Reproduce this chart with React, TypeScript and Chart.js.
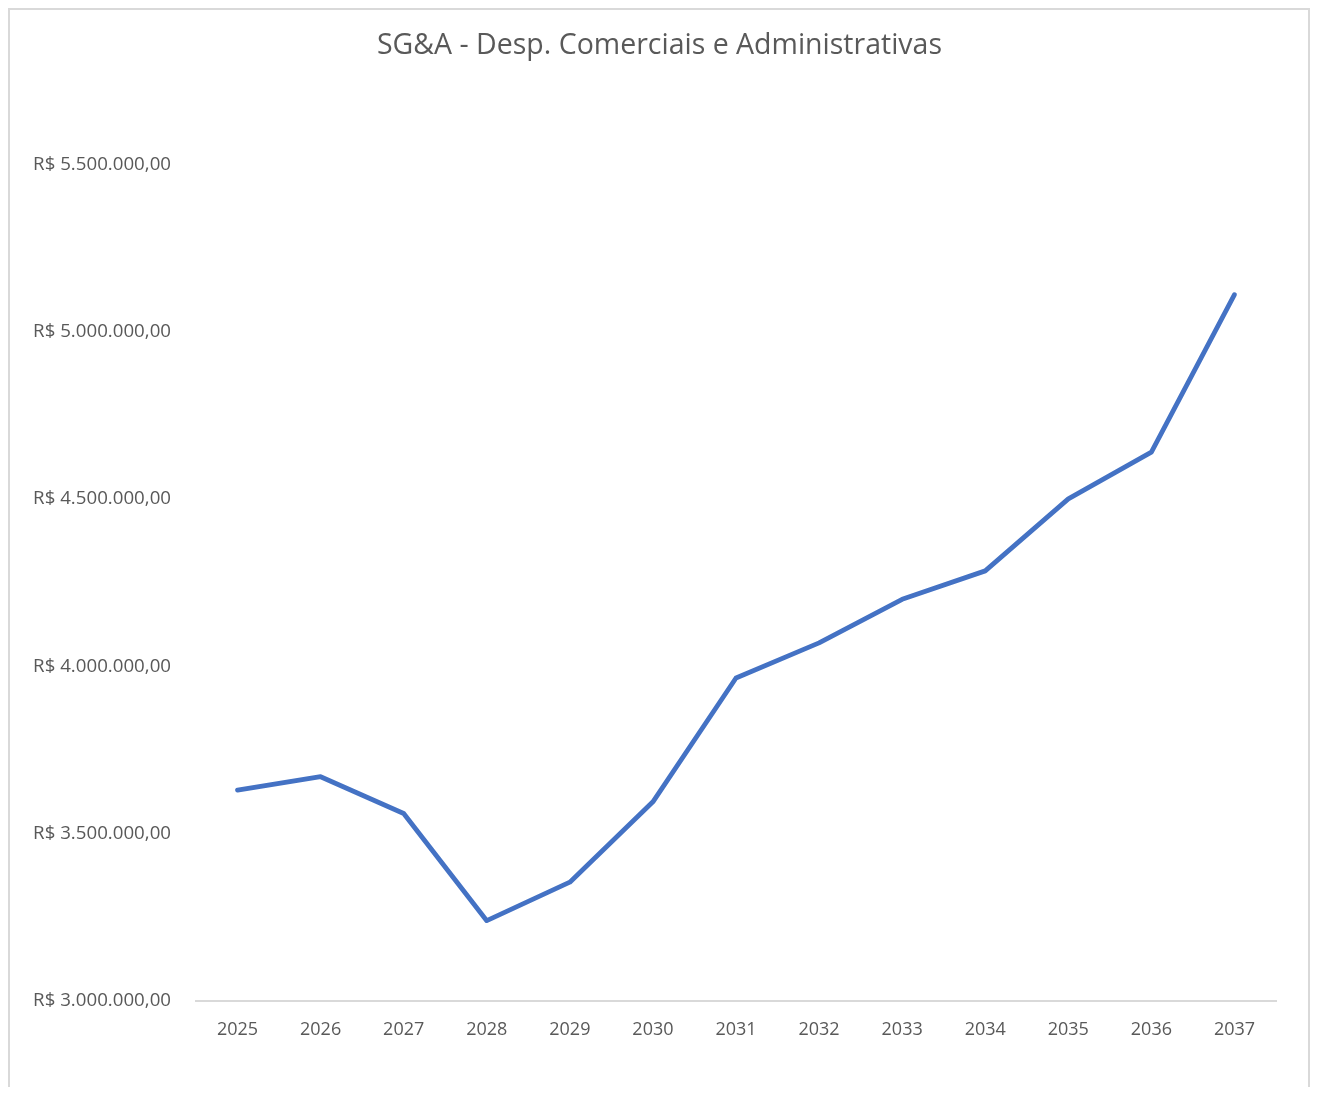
import React, { useEffect, useRef } from "react";
import { Chart, registerables } from "chart.js";

Chart.register(...registerables);

const chartTitle = "SG&A - Desp. Comerciais e Administrativas";
const years = ["2025", "2026", "2027", "2028", "2029", "2030", "2031", "2032", "2033", "2034", "2035", "2036", "2037"];
const sgaValues = [3630000, 3670000, 3560000, 3240000, 3355000, 3595000, 3965000, 4070000, 4200000, 4285000, 4500000, 4640000, 5110000];
const yMin = 3000000;
const yMax = 5500000;
const yStep = 500000;

const fmtBRL = (v: number) => {
  const s = Math.round(v).toString().replace(/\B(?=(\d{3})+(?!\d))/g, ".");
  return "R$ " + s + ",00";
};

const frameBorder = {
  id: "frameBorder",
  afterDraw(chart: any) {
    const ctx = chart.ctx;
    ctx.save();
    ctx.fillStyle = "#d9d9d9";
    ctx.fillRect(8, 8, 1302, 2);
    ctx.fillRect(8, 8, 2, chart.height);
    ctx.fillRect(1308, 8, 2, chart.height);
    ctx.restore();
  },
};

export default function App() {
  const canvasRef = useRef<HTMLCanvasElement | null>(null);

  useEffect(() => {
    if (!canvasRef.current) return;
    const font = "'Open Sans', 'Noto Sans', sans-serif";
    const chart = new Chart(canvasRef.current, {
      type: "line",
      data: {
        labels: years,
        datasets: [
          {
            label: "SG&A",
            data: sgaValues,
            borderColor: "#4472C4",
            backgroundColor: "#4472C4",
            borderWidth: 4.8,
            pointRadius: 0,
            tension: 0,
            borderCapStyle: "round",
            borderJoinStyle: "round",
          },
        ],
      },
      plugins: [frameBorder],
      options: {
        animation: false,
        responsive: false,
        maintainAspectRatio: false,
        layout: { padding: 0 },
        plugins: {
          legend: { display: false },
          tooltip: { enabled: false },
          title: {
            display: true,
            text: chartTitle,
            color: "#595959",
            font: { family: font, size: 28.5, weight: "normal" },
            padding: { top: 29, bottom: 101 },
          },
        },
        scales: {
          x: {
            offset: true,
            grid: { display: false, drawTicks: false },
            border: { display: true, color: "#d9d9d9", width: 2 },
            ticks: {
              color: "#595959",
              font: { family: font, size: 18 },
              padding: 18,
              maxRotation: 0,
            },
            afterFit: (s: any) => {
              s.height = 94;
            },
          },
          y: {
            min: yMin,
            max: yMax,
            grid: { display: false, drawTicks: false },
            border: { display: false },
            ticks: {
              stepSize: yStep,
              color: "#595959",
              font: { family: font, size: 18.7 },
              padding: 25,
              callback: (v: any) => fmtBRL(Number(v)),
            },
            afterFit: (s: any) => {
              s.width = 196;
            },
          },
          yRight: {
            position: "right",
            display: true,
            grid: { display: false, drawTicks: false },
            border: { display: false },
            ticks: { display: false },
            afterFit: (s: any) => {
              s.width = 43;
            },
          },
        },
      },
    });
    return () => chart.destroy();
  }, []);

  return (
    <div style={{ position: "relative", width: 1319, height: 1095, margin: -8, overflow: "hidden", background: "#fff" }}>
      <canvas ref={canvasRef} width={1319} height={1095} style={{ display: "block", width: 1319, height: 1095 }} />
    </div>
  );
}
